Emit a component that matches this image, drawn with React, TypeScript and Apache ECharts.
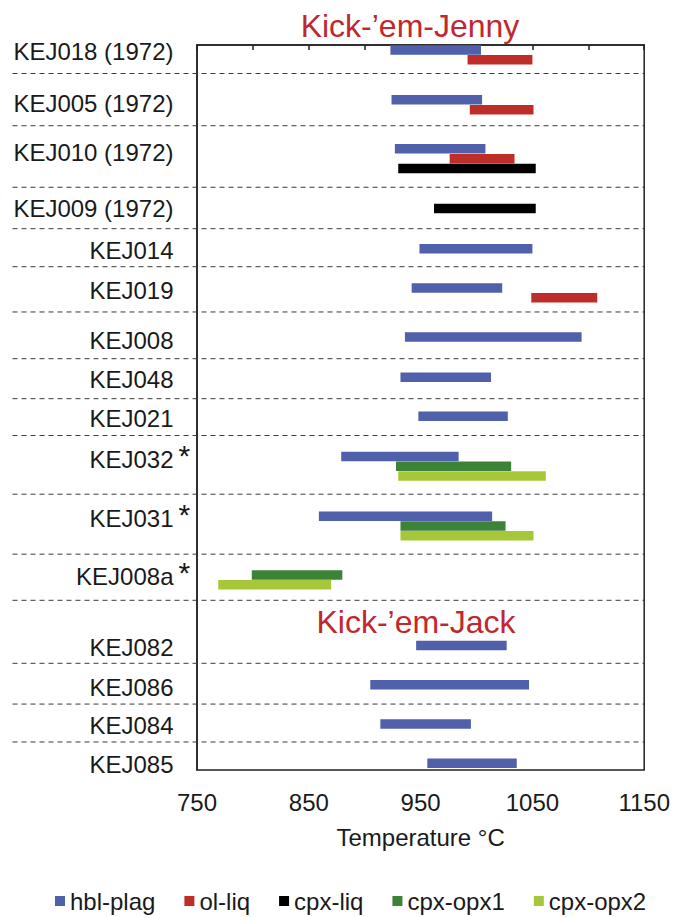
import { useEffect, useRef } from "react";
import * as echarts from "echarts";

// ---- data -------------------------------------------------------------
// Sample names, top to bottom, and where each name sits on the row scale.
const sampleNames = [
  "KEJ018 (1972)", "KEJ005 (1972)", "KEJ010 (1972)", "KEJ009 (1972)",
  "KEJ014", "KEJ019", "KEJ008", "KEJ048", "KEJ021",
  "KEJ032", "KEJ031", "KEJ008a",
  "KEJ082", "KEJ086", "KEJ084", "KEJ085",
];
const labelRow = [0.65, 5.92, 11.0, 16.67, 21.0, 25.09, 30.13, 34.14, 38.14, 42.26, 48.31, 54.23, 61.47, 65.58, 69.49, 73.46];
const starred = [false, false, false, false, false, false, false, false, false, true, true, true, false, false, false, false];

// Dashed dividers between samples (row scale).
const dividerRow = [2.91, 8.24, 14.52, 18.75, 22.63, 27.25, 32.02, 36.1, 39.86, 45.85, 51.97, 56.68, 63.11, 67.27, 71.14];

// Temperature ranges per thermometer: [min °C, max °C, row]
const hblPlag = [
  [923, 1004, 0.5], [924, 1005, 5.6], [927, 1008, 10.6], [949, 1050, 20.8],
  [942, 1023, 24.8], [936, 1094, 29.8], [932, 1013, 33.9], [948, 1028, 37.9],
  [879, 984, 42.0], [859, 1014, 48.1], [946, 1027, 61.3], [905, 1047, 65.3],
  [914, 995, 69.3], [956, 1036, 73.3],
];
const olLiq = [[992, 1050, 1.5], [994, 1051, 6.6], [976, 1034, 11.6], [1049, 1108, 25.8]];
const cpxLiq = [[930, 1053, 12.6], [962, 1053, 16.7]];
const cpxOpx1 = [[928, 1031, 43.0], [932, 1026, 49.1], [799, 880, 54.1]];
const cpxOpx2 = [[930, 1062, 44.0], [932, 1051, 50.1], [769, 870, 55.1]];

const tempTicks = [750, 850, 950, 1050, 1150];
const groupTitles = ["Kick-\u2019em-Jenny", "Kick-\u2019em-Jack"];

// ---- styling ----------------------------------------------------------
const FONT = '"Liberation Sans", Arial, Helvetica, sans-serif';
const INK = "#1a1a1a";
const TITLE_RED = "#c0282d";
const ROW_MAX = 74;
const BAR_H = 0.97;

const phases = [
  { name: "hbl-plag", data: hblPlag, color: "#5060aa" },
  { name: "ol-liq", data: olLiq, color: "#be2d28" },
  { name: "cpx-liq", data: cpxLiq, color: "#000000" },
  { name: "cpx-opx1", data: cpxOpx1, color: "#3c8237" },
  { name: "cpx-opx2", data: cpxOpx2, color: "#a6c838" },
];

const barRender = (_params: any, api: any) => {
  const row = api.value(2);
  const a = api.coord([api.value(0), row]);
  const b = api.coord([api.value(1), row]);
  const h = api.size([0, BAR_H])[1];
  return {
    type: "rect",
    shape: { x: a[0], y: a[1] - h / 2, width: b[0] - a[0], height: h },
    style: api.style(),
  };
};

const dividerRender = (_params: any, api: any) => {
  const row = api.value(1);
  const right = api.coord([1150, row]);
  return {
    type: "line",
    shape: { x1: 12.5, y1: right[1], x2: right[0], y2: right[1] },
    style: { stroke: "#3a3a3a", lineWidth: 1, lineDash: [5, 4] },
  };
};

const labelRender = (params: any, api: any) => {
  const i = params.dataIndex;
  const p = api.coord([750, api.value(1)]);
  const xRight = p[0] - 23.5;
  const children: any[] = [
    {
      type: "text",
      style: {
        text: sampleNames[i], x: xRight, y: p[1], align: "right", verticalAlign: "middle",
        fill: INK, fontSize: 24, fontFamily: FONT,
      },
    },
  ];
  if (starred[i]) {
    children.push({
      type: "text",
      style: {
        text: "*", x: xRight + 5, y: p[1] - 4, align: "left", verticalAlign: "middle",
        fill: INK, fontSize: 30, fontFamily: FONT,
      },
    });
  }
  return { type: "group", children };
};

export default function App() {
  const ref = useRef<HTMLDivElement>(null);

  useEffect(() => {
    const chart = echarts.init(ref.current!, null, { renderer: "svg" });
    const option: any = {
      animation: false,
      backgroundColor: "#ffffff",
      grid: {
        left: 197, right: 28, top: 45, bottom: 148,
        show: true, borderColor: "#222", borderWidth: 1.5, backgroundColor: "transparent",
      },
      xAxis: {
        type: "value", min: 750, max: 1150, interval: 50,
        axisLine: { show: true, lineStyle: { color: "#222", width: 1.5 } },
        axisTick: { show: true, inside: false, length: 5, lineStyle: { color: "#222", width: 1.5 } },
        axisLabel: {
          margin: 20, fontSize: 24, color: INK, fontFamily: FONT,
          formatter: (v: number) => (tempTicks.includes(v) ? String(v) : ""),
        },
        splitLine: { show: false },
        name: "Temperature \u00B0C", nameLocation: "middle", nameGap: 55,
        nameTextStyle: { fontSize: 24, color: INK, fontFamily: FONT },
      },
      yAxis: {
        type: "value", min: 0, max: ROW_MAX, inverse: true,
        axisLine: { show: true, lineStyle: { color: "#222", width: 1.5 } },
        axisTick: { show: false }, axisLabel: { show: false }, splitLine: { show: false },
      },
      legend: {
        data: phases.map((p) => ({ name: p.name, icon: "rect" })),
        left: 50, top: 884, itemWidth: 10, itemHeight: 10, itemGap: 29,
        textStyle: { fontSize: 24, color: INK, fontFamily: FONT },
        selectedMode: false,
      },
      graphic: [
        {
          type: "text", x: 410, y: 25.5,
          style: { text: groupTitles[0], fill: TITLE_RED, fontSize: 32, fontFamily: FONT, align: "center", verticalAlign: "middle" },
        },
        {
          type: "text", x: 416, y: 621.5,
          style: { text: groupTitles[1], fill: TITLE_RED, fontSize: 32, fontFamily: FONT, align: "center", verticalAlign: "middle" },
        },
      ],
      series: [
        {
          type: "custom", name: "dividers", silent: true, clip: false,
          renderItem: dividerRender,
          data: dividerRow.map((r) => [750, r]), encode: { x: 0, y: 1 }, z: 1,
        },
        {
          type: "custom", name: "samples", silent: true, clip: false,
          renderItem: labelRender,
          data: labelRow.map((r) => [750, r]), encode: { x: 0, y: 1 }, z: 3,
        },
        ...phases.map((p) => ({
          type: "custom", name: p.name, renderItem: barRender,
          data: p.data, encode: { x: [0, 1], y: 2 },
          itemStyle: { color: p.color }, z: 2,
        })),
      ],
    };
    chart.setOption(option);
    return () => chart.dispose();
  }, []);

  return (
    <div
      ref={ref}
      style={{ position: "absolute", left: 0, top: 0, width: 673, height: 918, background: "#fff" }}
    />
  );
}
